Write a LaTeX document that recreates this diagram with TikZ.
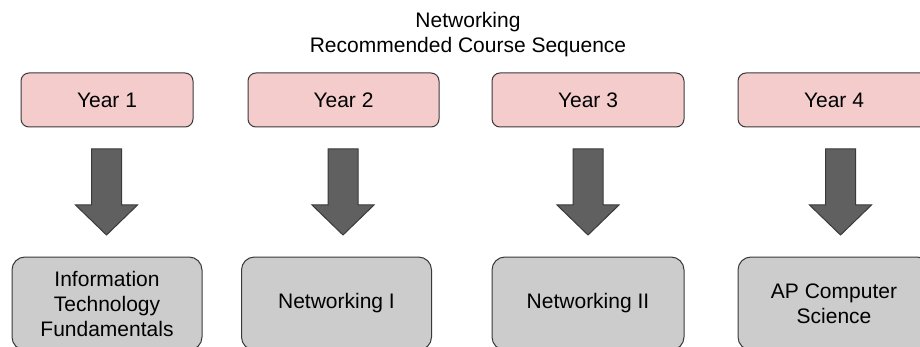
\documentclass[tikz,border=0pt]{standalone}
\usepackage{fontspec}
\setmainfont{Liberation Sans}
\definecolor{yearfill}{HTML}{F4CCCC}
\definecolor{coursefill}{HTML}{CCCCCC}
\definecolor{edge}{HTML}{3A3A3A}
\definecolor{arrowfill}{HTML}{606060}
\tikzset{
  txt/.style={font=\fontsize{21}{25}\selectfont, align=center, text=black},
  yearbox/.style={txt, draw=edge, line width=1pt, fill=yearfill, rounded corners=8pt,
    minimum height=54pt, inner sep=0pt},
  coursebox/.style={txt, draw=edge, line width=1pt, fill=coursefill, rounded corners=13pt,
    minimum width=190pt, minimum height=93pt, inner sep=0pt},
  blockarrow/.style={draw=edge, line width=1pt, fill=arrowfill},
  barrow/.pic={\draw[blockarrow] (-15,0) -- (15,0) -- (15,56) -- (31,56) -- (0,86)
     -- (-31,56) -- (-15,56) -- cycle;}
}
\begin{document}
\begin{tikzpicture}[x=1pt,y=-1pt]
\useasboundingbox (0,0) rectangle (920,347);
\clip (0,0) rectangle (920,347);
\fill[white] (0,0) rectangle (920,347);
\node[txt, anchor=base] (t1) at (468,28) {Networking};
\node[txt, anchor=base] (t2) at (468,53) {Recommended Course Sequence};
\node[yearbox, minimum width=172pt] (y1) at (107,100) {Year 1};
\node[yearbox, minimum width=191pt] (y2) at (343.5,100) {Year 2};
\node[yearbox, minimum width=192pt] (y3) at (588,100) {Year 3};
\node[yearbox, minimum width=192pt] (y4) at (834,100) {Year 4};
\pic (a1) at (106.5,149) {barrow};
\pic (a2) at (343,149) {barrow};
\pic (a3) at (588,149) {barrow};
\pic (a4) at (840.5,149) {barrow};
\node[coursebox] (c1) at (107,303.5) {Information\\Technology\\Fundamentals};
\node[coursebox] (c2) at (336.5,303.5) {Networking I};
\node[coursebox, minimum width=192pt] (c3) at (588,303.5) {Networking II};
\node[coursebox, minimum width=192pt] (c4) at (834,303.5) {AP Computer\\Science};
\end{tikzpicture}
\end{document}
